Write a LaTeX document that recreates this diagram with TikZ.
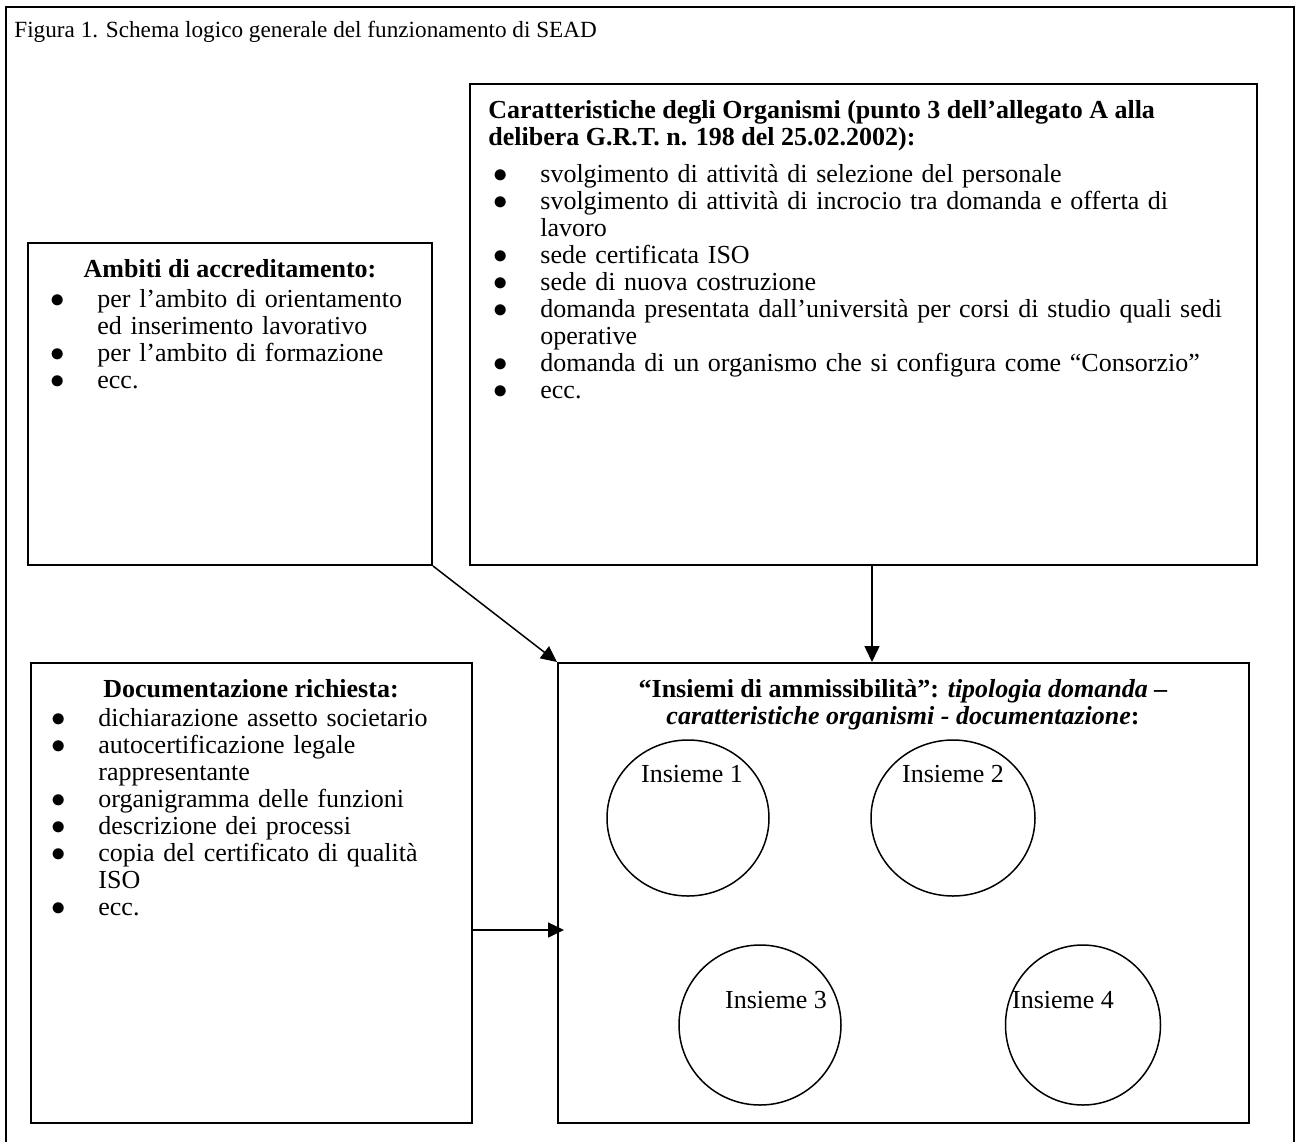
\documentclass[tikz,border=0pt]{standalone}
\usepackage{fontspec}
\setmainfont{Liberation Serif}
\usepackage{tikz}
\usetikzlibrary{arrows.meta,fit,shapes.geometric}
\newcommand{\voce}[1]{\par\noindent\strut\llap{\makebox[23.5pt][l]{\fontsize{15}{13.5}\selectfont$\bullet$}}#1}
\tikzset{
    %Define standard arrow tip
    >={Triangle[length=8pt,width=7.5pt]},
    %Define style for boxes
    riquadro/.style={
           rectangle,
           draw=black, line width=1pt,
           inner sep=0pt},
    % frame around the whole figure
    cornice/.style={
           draw=black, line width=1.3pt},
    % Define style for the sets
    ellisse/.style={
           ellipse,
           draw=black, line width=0.75pt,
           inner sep=0pt},
    % Define style for texts
    testo/.style={
           inner sep=0pt,
           font=\fontsize{13}{13.5}\selectfont},
    intest/.style={
           testo,
           font=\fontsize{13}{13.5}\selectfont\bfseries},
    elenco/.style={
           testo,
           anchor=north west,
           text width=400pt,
           align=left},
    % Define arrow style
    freccia/.style={
           ->,
           line width=0.75pt}
}
\begin{document}
\begin{tikzpicture}[x=0.5pt,y=-0.5pt]
      \useasboundingbox (0,0) rectangle (1297,1142);
      \draw[cornice] (6,1142) |- (1294,7) -- (1294,1142);
      \node[testo, anchor=base west, font=\fontsize{11.6}{13.5}\selectfont] (titolo) at (14,37)
        {Figura 1. Schema logico generale del funzionamento di SEAD};

      \node[riquadro, fit={(28,243) (432,565)}] (ambiti) {};
      \node[riquadro, fit={(470,84) (1257,565)}] (caratt) {};
      \node[riquadro, fit={(31,663) (472,1123)}] (docum) {};
      \node[riquadro, fit={(558,663) (1249,1123)}] (insiemi) {};

      \node[intest, anchor=base] (ambiti-tit) at (230,277) {Ambiti di accreditamento:};
      \node[elenco] (ambiti-el) at (50,280) {\leftskip=23.5pt
        \voce{per l’ambito di orientamento\\ ed inserimento lavorativo}
        \voce{per l’ambito di formazione}
        \voce{ecc.}\par};

      \node[intest, anchor=north west, align=left] (caratt-tit) at (488,99)
        {\strut Caratteristiche degli Organismi (punto 3 dell’allegato A alla\\
         delibera G.R.T. n. 198 del 25.02.2002):};
      \node[elenco] (caratt-el) at (493,155) {\leftskip=23.5pt
        \voce{svolgimento di attività di selezione del personale}
        \voce{svolgimento di attività di incrocio tra domanda e offerta di\\ lavoro}
        \voce{sede certificata ISO}
        \voce{sede di nuova costruzione}
        \voce{domanda presentata dall’università per corsi di studio quali sedi\\ operative}
        \voce{domanda di un organismo che si configura come “Consorzio”}
        \voce{ecc.}\par};

      \node[intest, anchor=base] (docum-tit) at (251,697) {Documentazione richiesta:};
      \node[elenco] (docum-el) at (51,699) {\leftskip=23.5pt
        \voce{dichiarazione assetto societario}
        \voce{autocertificazione legale\\ rappresentante}
        \voce{organigramma delle funzioni}
        \voce{descrizione dei processi}
        \voce{copia del certificato di qualità\\ ISO}
        \voce{ecc.}\par};

      \node[intest, anchor=north, align=center] (insiemi-tit) at (903,678)
        {\strut “Insiemi di ammissibilità”: \textit{tipologia domanda –}\\
         \textit{caratteristiche organismi - documentazione}:};

      \node[ellisse, minimum width=81pt, minimum height=78pt] (ins1) at (688,818) {};
      \node[ellisse, minimum width=82pt, minimum height=78pt] (ins2) at (953,818) {};
      \node[ellisse, minimum width=81pt, minimum height=80pt] (ins3) at (760,1025) {};
      \node[ellisse, minimum width=77.5pt, minimum height=80pt] (ins4) at (1083,1025) {};
      \node[testo, anchor=base] (ins1-lab) at ([xshift=2pt,yshift=18pt]ins1.center) {Insieme 1};
      \node[testo, anchor=base] (ins2-lab) at ([yshift=18pt]ins2.center) {Insieme 2};
      \node[testo, anchor=base] (ins3-lab) at ([xshift=8pt,yshift=8.5pt]ins3.center) {Insieme 3};
      \node[testo, anchor=base] (ins4-lab) at ([xshift=-10pt,yshift=8.5pt]ins4.center) {Insieme 4};

      \draw[freccia] (ambiti.south east) -- (insiemi.north west);
      \draw[freccia] ([xshift=4.25pt]caratt.south) -- ([xshift=4.25pt]caratt.south |- insiemi.north);
      \draw[freccia, shorten >=-3.5pt]
        ([yshift=-18.5pt]docum.east) -- ([yshift=-18.5pt]insiemi.west);
\end{tikzpicture}
\end{document}
